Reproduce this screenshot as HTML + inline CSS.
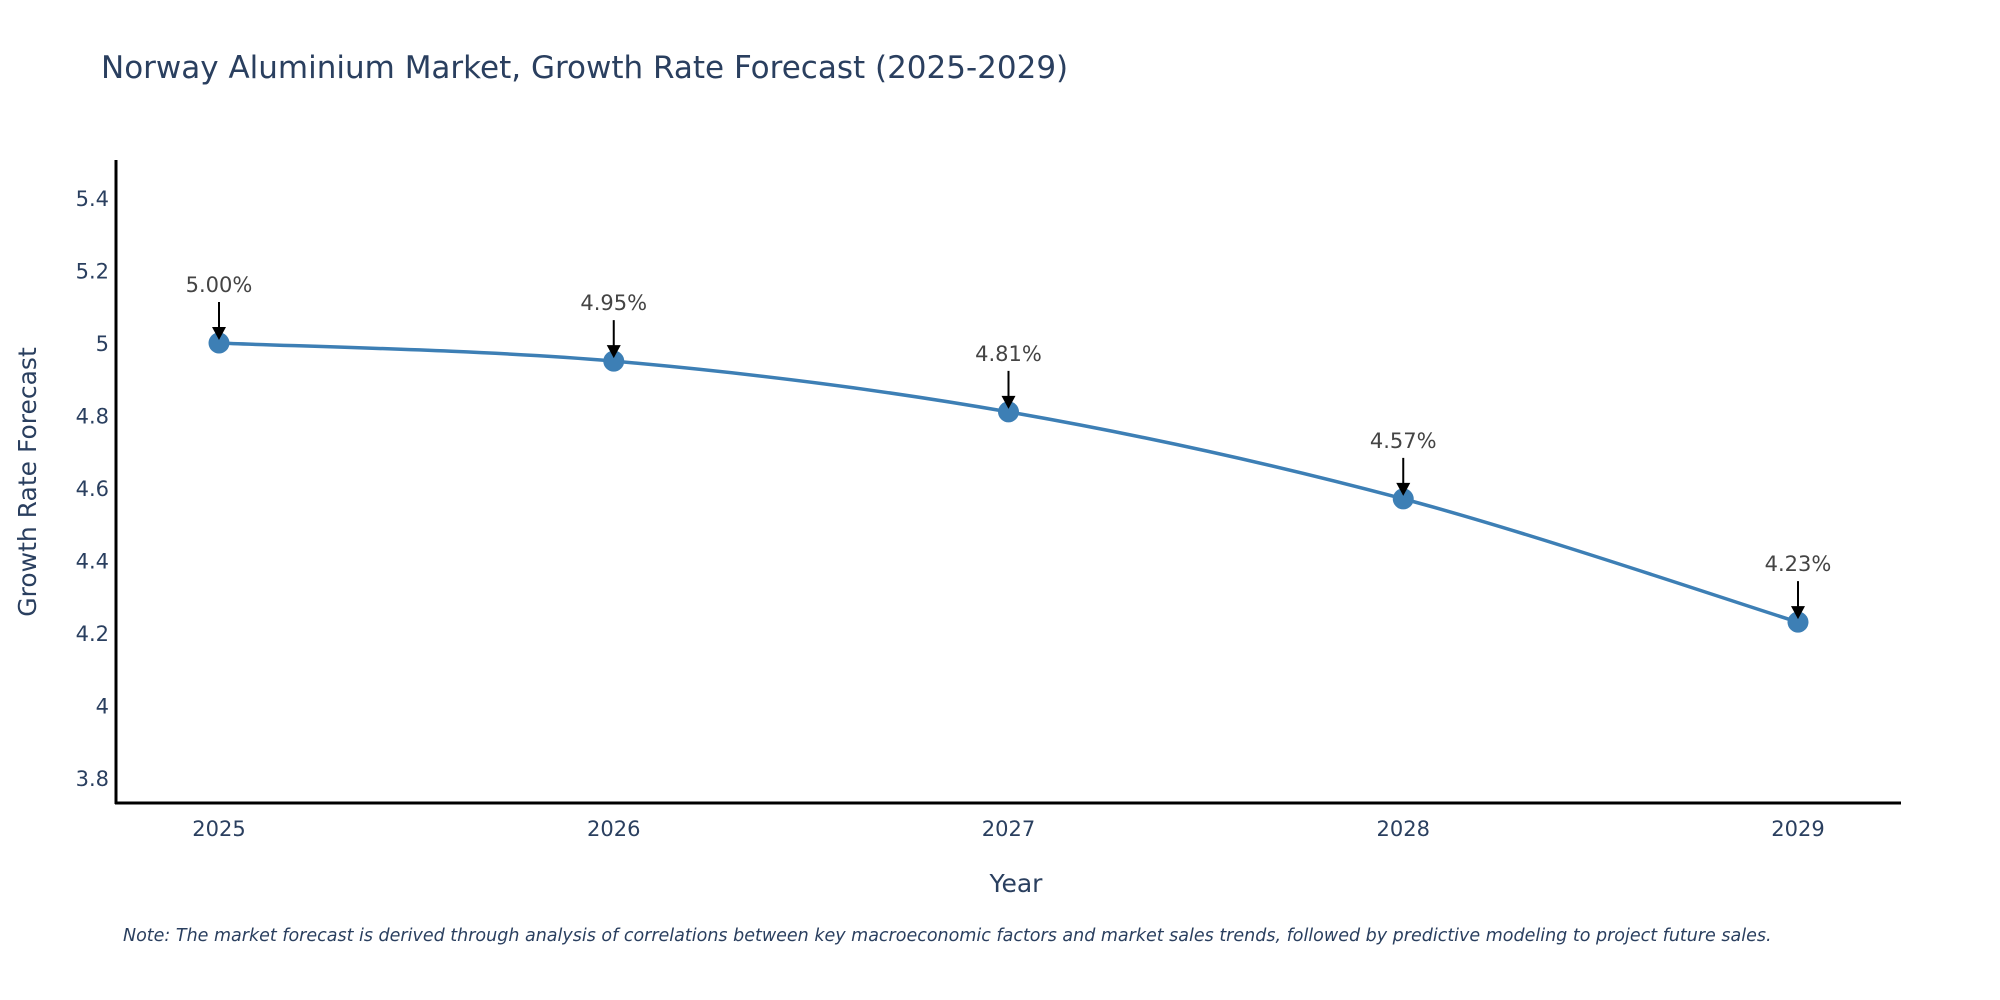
<!DOCTYPE html>
<html><head><meta charset="utf-8"><style>
body{margin:0;background:#fff;}
svg{display:block;font-family:"DejaVu Sans","Liberation Sans",sans-serif;}
</style></head><body>
<svg id="chart" width="2000" height="1000">
<text x="101" y="78" font-size="31" fill="#2a3f5f">Norway Aluminium Market, Growth Rate Forecast (2025-2029)</text>
<g id="yticks"></g>
<g id="xticks"></g>
<path id="line" fill="none" stroke="#3d7fb5" stroke-width="3.5"></path>
<g id="marks"></g>
<line x1="116" y1="160" x2="116" y2="804" stroke="#000" stroke-width="3"/>
<line x1="115" y1="803" x2="1901" y2="803" stroke="#000" stroke-width="3"/>
<text x="1016" y="892" font-size="25" fill="#2a3f5f" text-anchor="middle">Year</text>
<text transform="translate(36,482) rotate(-90)" font-size="25" fill="#2a3f5f" text-anchor="middle">Growth Rate Forecast</text>
<text x="123" y="941" font-size="17.5" font-style="italic" fill="#2a3f5f">Note: The market forecast is derived through analysis of correlations between key macroeconomic factors and market sales trends, followed by predictive modeling to project future sales.</text>
</svg>
<script>
const years=[2025,2026,2027,2028,2029];
const values=[5.00,4.95,4.81,4.57,4.23];
const labels=["5.00%","4.95%","4.81%","4.57%","4.23%"];
const yTicks=[3.8,4,4.2,4.4,4.6,4.8,5,5.2,5.4];
const NS="http://www.w3.org/2000/svg";
function xs(v){return 219+(v-2025)*394.75;}
function ys(v){return 343-(v-5)*362.5;}
function mk(tag,attrs,parent,txt){const e=document.createElementNS(NS,tag);for(const k in attrs)e.setAttribute(k,attrs[k]);if(txt!==undefined)e.textContent=txt;parent.appendChild(e);return e;}
const yg=document.getElementById('yticks');
yTicks.forEach(t=>{const e=mk('text',{x:109,y:ys(t)+8,'font-size':21,fill:'#2a3f5f','text-anchor':'end'},yg,String(t));

});
const xg=document.getElementById('xticks');
years.forEach(t=>{const e=mk('text',{x:xs(t),y:836,'font-size':21,fill:'#2a3f5f','text-anchor':'middle'},xg,String(t));

});
const P=years.map((y,i)=>[xs(y),ys(values[i])]);
let d='M'+P[0][0]+','+P[0][1];
for(let i=0;i<P.length-1;i++){const p0=P[Math.max(0,i-1)],p1=P[i],p2=P[i+1],p3=P[Math.min(P.length-1,i+2)];
const c1=[p1[0]+(p2[0]-p0[0])/6,p1[1]+(p2[1]-p0[1])/6],c2=[p2[0]-(p3[0]-p1[0])/6,p2[1]-(p3[1]-p1[1])/6];
d+=' C'+c1+' '+c2+' '+p2;}
document.getElementById('line').setAttribute('d',d);
const mg=document.getElementById('marks');
P.forEach((p,i)=>{
const c=mk('circle',{cx:p[0],cy:p[1],r:10.5,fill:'#3d7fb5'},mg);


const l=mk('line',{x1:p[0],y1:p[1]-41,x2:p[0],y2:p[1]-14,stroke:'#000','stroke-width':2},mg);


const h=mk('polygon',{points:(p[0]-7)+','+(p[1]-16)+' '+(p[0]+7)+','+(p[1]-16)+' '+p[0]+','+(p[1]-3),fill:'#000'},mg);


const t=mk('text',{x:p[0],y:p[1]-51,'font-size':21,fill:'#444','text-anchor':'middle'},mg,labels[i]);


});
</script>
</body></html>
